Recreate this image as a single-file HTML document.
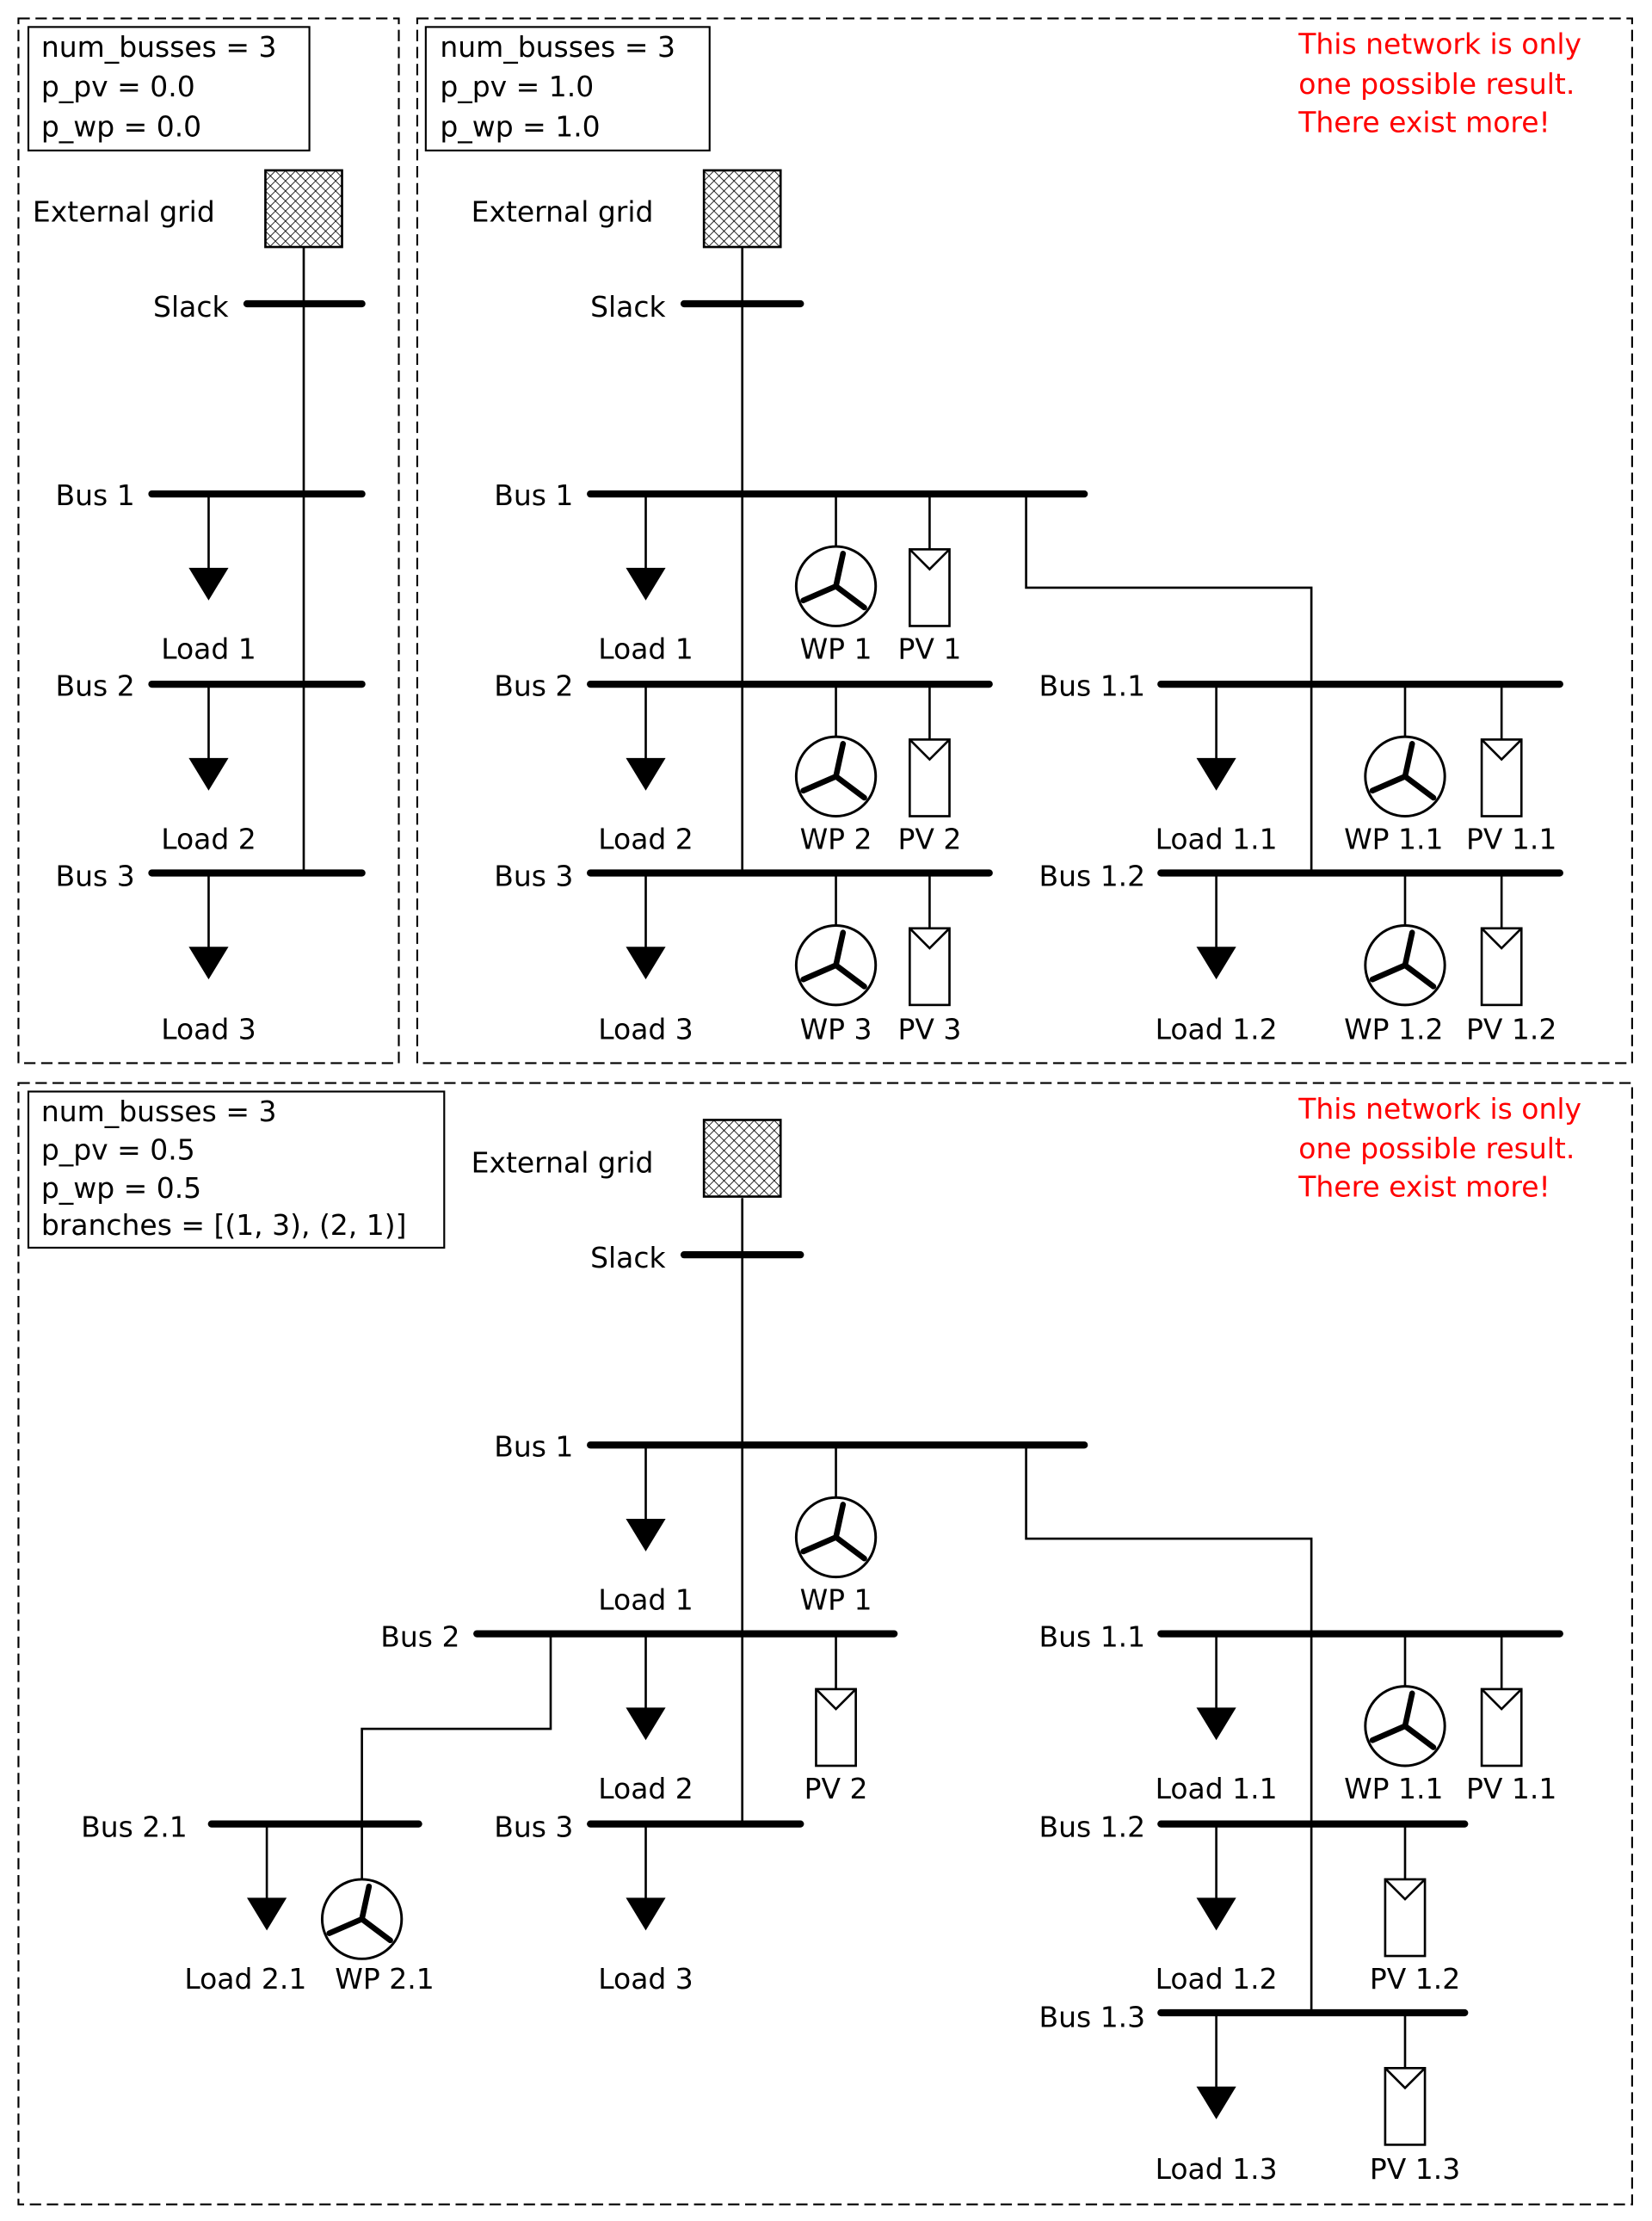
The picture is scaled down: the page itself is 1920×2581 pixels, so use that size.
<!DOCTYPE html>
<html><head><meta charset="utf-8"><style>
html,body{margin:0;padding:0;background:#fff}
svg{display:block}
text{font-family:"DejaVu Sans","Liberation Sans",sans-serif;font-size:20px;fill:#000}
.r{fill:#ff0000}
.e{text-anchor:end}.m{text-anchor:middle}
</style></head><body>
<svg width="1920" height="2581" viewBox="0 0 1164 1564.7" xmlns="http://www.w3.org/2000/svg">
<defs>
<pattern id="h" width="5" height="5" patternUnits="userSpaceOnUse" patternTransform="rotate(45)">
<line x1="0" y1="0" x2="0" y2="5" stroke="#000" stroke-width="1"/>
<line x1="0" y1="0" x2="5" y2="0" stroke="#000" stroke-width="1"/>
</pattern>
<g id="load"><line x1="0" y1="0" x2="0" y2="53" stroke="#000" stroke-width="1.6"/><polygon points="-14,52 14,52 0,75" fill="#000"/></g>
<g id="wp"><line x1="0" y1="0" x2="0" y2="37" stroke="#000" stroke-width="1.6"/><circle cx="0" cy="65" r="28" fill="#fff" stroke="#000" stroke-width="1.8"/>
<g stroke="#000" stroke-width="4" stroke-linecap="round"><line x1="0" y1="65" x2="5" y2="42"/><line x1="0" y1="65" x2="-23" y2="75"/><line x1="0" y1="65" x2="20" y2="80"/></g></g>
<g id="pv"><line x1="0" y1="0" x2="0" y2="40" stroke="#000" stroke-width="1.6"/><rect x="-14" y="39" width="28" height="54" fill="#fff" stroke="#000" stroke-width="1.6"/><polyline points="-14,39 0,53 14,39" fill="none" stroke="#000" stroke-width="1.6"/></g>
<g id="grid"><rect x="0" y="0" width="54" height="54" fill="url(#h)" stroke="#000" stroke-width="1.6"/></g>
</defs>
<g transform="translate(-1,-1)">
<g fill="none" stroke="#000" stroke-width="1.3" stroke-dasharray="8,4">
<rect x="14" y="14" width="268" height="736"/>
<rect x="295" y="14" width="856" height="736"/>
<rect x="14" y="764" width="1137" height="790"/>
</g>
<g fill="#fff" stroke="#000" stroke-width="1.3">
<rect x="21" y="20" width="198" height="87"/>
<rect x="301" y="20" width="200" height="87"/>
<rect x="21" y="770" width="293" height="110"/>
</g>
<text x="30" y="41">num_busses = 3</text><text x="30" y="69">p_pv = 0.0</text><text x="30" y="97">p_wp = 0.0</text>
<text x="311" y="41">num_busses = 3</text><text x="311" y="69">p_pv = 1.0</text><text x="311" y="97">p_wp = 1.0</text>
<text x="30" y="791">num_busses = 3</text><text x="30" y="818">p_pv = 0.5</text><text x="30" y="845">p_wp = 0.5</text><text x="30" y="871">branches = [(1, 3), (2, 1)]</text>
<text class="r" x="916" y="39">This network is only</text><text class="r" x="916" y="67">one possible result.</text><text class="r" x="916" y="94">There exist more!</text>
<text class="r" x="916" y="789">This network is only</text><text class="r" x="916" y="817">one possible result.</text><text class="r" x="916" y="844">There exist more!</text>

<g stroke="#000" stroke-width="1.6" fill="none">
<line x1="215" y1="175" x2="215" y2="616"/>
<line x1="524" y1="175" x2="524" y2="616"/>
<polyline points="724,349 724,415 925,415 925,616"/>
<line x1="524" y1="845" x2="524" y2="1286"/>
<polyline points="724,1019 724,1085 925,1085 925,1419"/>
<polyline points="389,1152 389,1219 256,1219 256,1290"/>
</g>
<g stroke="#000" stroke-width="5" stroke-linecap="round">
<line x1="175" y1="215" x2="256" y2="215"/>
<line x1="108" y1="349" x2="256" y2="349"/>
<line x1="108" y1="483" x2="256" y2="483"/>
<line x1="108" y1="616" x2="256" y2="616"/>
<line x1="483" y1="215" x2="565" y2="215"/>
<line x1="417" y1="349" x2="765" y2="349"/>
<line x1="417" y1="483" x2="698" y2="483"/>
<line x1="417" y1="616" x2="698" y2="616"/>
<line x1="819" y1="483" x2="1100" y2="483"/>
<line x1="819" y1="616" x2="1100" y2="616"/>
<line x1="483" y1="885" x2="565" y2="885"/>
<line x1="417" y1="1019" x2="765" y2="1019"/>
<line x1="337" y1="1152" x2="631" y2="1152"/>
<line x1="150" y1="1286" x2="296" y2="1286"/>
<line x1="417" y1="1286" x2="565" y2="1286"/>
<line x1="819" y1="1152" x2="1100" y2="1152"/>
<line x1="819" y1="1286" x2="1033" y2="1286"/>
<line x1="819" y1="1419" x2="1033" y2="1419"/>
</g>
<use href="#grid" x="188" y="121"/><use href="#grid" x="497" y="121"/><use href="#grid" x="497" y="790"/>
<use href="#load" x="148" y="349"/><use href="#load" x="148" y="483"/><use href="#load" x="148" y="616"/>
<use href="#load" x="456" y="349"/><use href="#load" x="456" y="483"/><use href="#load" x="456" y="616"/>
<use href="#wp" x="590" y="349"/><use href="#wp" x="590" y="483"/><use href="#wp" x="590" y="616"/>
<use href="#pv" x="656" y="349"/><use href="#pv" x="656" y="483"/><use href="#pv" x="656" y="616"/>
<use href="#load" x="858" y="483"/><use href="#load" x="858" y="616"/>
<use href="#wp" x="991" y="483"/><use href="#wp" x="991" y="616"/>
<use href="#pv" x="1059" y="483"/><use href="#pv" x="1059" y="616"/>
<use href="#load" x="456" y="1019"/><use href="#wp" x="590" y="1019"/>
<use href="#load" x="456" y="1152"/><use href="#pv" x="590" y="1152"/>
<use href="#load" x="189" y="1286"/><use href="#wp" x="256" y="1288"/>
<use href="#load" x="456" y="1286"/>
<use href="#load" x="858" y="1152"/><use href="#wp" x="991" y="1152"/><use href="#pv" x="1059" y="1152"/>
<use href="#load" x="858" y="1286"/><use href="#pv" x="991" y="1286"/>
<use href="#load" x="858" y="1419"/><use href="#pv" x="991" y="1419"/>

<text x="24" y="157">External grid</text>
<text class="e" x="162" y="224">Slack</text>
<text class="e" x="96" y="357">Bus 1</text><text class="e" x="96" y="491">Bus 2</text><text class="e" x="96" y="625">Bus 3</text>
<text class="m" x="148" y="465">Load 1</text><text class="m" x="148" y="599">Load 2</text><text class="m" x="148" y="733">Load 3</text>

<text x="333" y="157">External grid</text>
<text class="e" x="470" y="224">Slack</text>
<text class="e" x="405" y="357">Bus 1</text><text class="e" x="405" y="491">Bus 2</text><text class="e" x="405" y="625">Bus 3</text>
<text class="m" x="456" y="465">Load 1</text><text class="m" x="456" y="599">Load 2</text><text class="m" x="456" y="733">Load 3</text>
<text class="m" x="590" y="465">WP 1</text><text class="m" x="590" y="599">WP 2</text><text class="m" x="590" y="733">WP 3</text>
<text class="m" x="656" y="465">PV 1</text><text class="m" x="656" y="599">PV 2</text><text class="m" x="656" y="733">PV 3</text>
<text class="e" x="808" y="491">Bus 1.1</text><text class="e" x="808" y="625">Bus 1.2</text>
<text class="m" x="858" y="599">Load 1.1</text><text class="m" x="858" y="733">Load 1.2</text>
<text class="m" x="983" y="599">WP 1.1</text><text class="m" x="983" y="733">WP 1.2</text>
<text class="m" x="1066" y="599">PV 1.1</text><text class="m" x="1066" y="733">PV 1.2</text>

<text x="333" y="827">External grid</text>
<text class="e" x="470" y="894">Slack</text>
<text class="e" x="405" y="1027">Bus 1</text>
<text class="m" x="456" y="1135">Load 1</text><text class="m" x="590" y="1135">WP 1</text>
<text class="e" x="325" y="1161">Bus 2</text>
<text class="m" x="456" y="1268">Load 2</text><text class="m" x="590" y="1268">PV 2</text>
<text class="e" x="133" y="1295">Bus 2.1</text>
<text class="e" x="405" y="1295">Bus 3</text>
<text class="m" x="174" y="1402">Load 2.1</text><text class="m" x="272" y="1402">WP 2.1</text>
<text class="m" x="456" y="1402">Load 3</text>
<text class="e" x="808" y="1161">Bus 1.1</text><text class="e" x="808" y="1295">Bus 1.2</text><text class="e" x="808" y="1429">Bus 1.3</text>
<text class="m" x="858" y="1268">Load 1.1</text><text class="m" x="983" y="1268">WP 1.1</text><text class="m" x="1066" y="1268">PV 1.1</text>
<text class="m" x="858" y="1402">Load 1.2</text><text class="m" x="998" y="1402">PV 1.2</text>
<text class="m" x="858" y="1536">Load 1.3</text><text class="m" x="998" y="1536">PV 1.3</text>
</g>
</svg>
</body></html>
